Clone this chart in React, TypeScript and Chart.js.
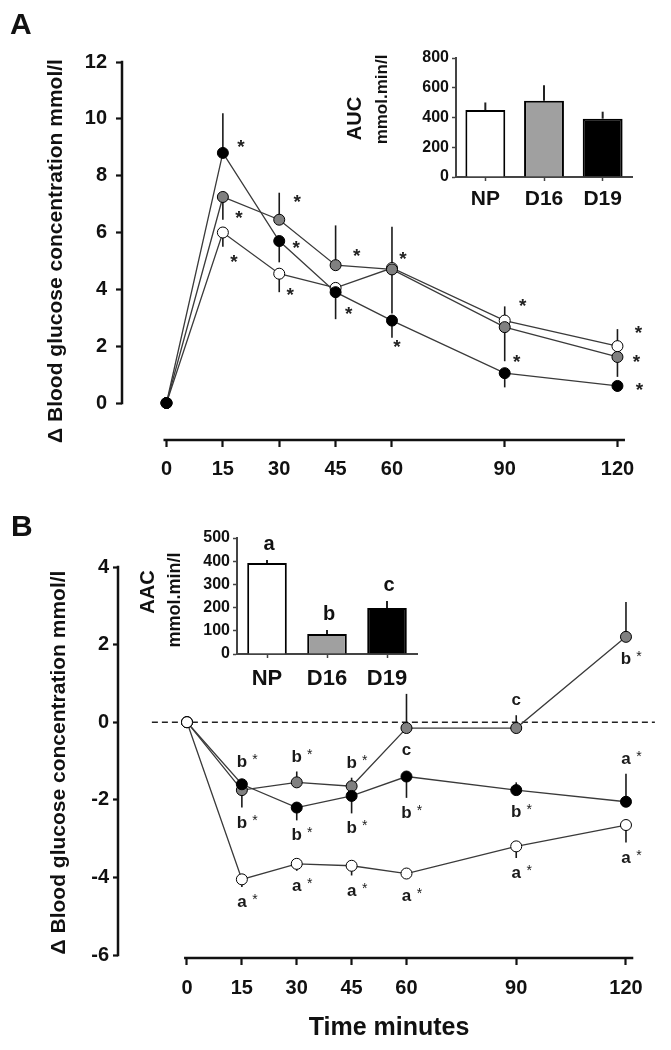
import React, { useEffect, useRef } from "react";
import { Chart, registerables } from "chart.js";

Chart.register(...registerables);

const FONT = "'Liberation Sans', Arial, Helvetica, sans-serif";
const INK = "#111111";
const LINE = "#3a3a3a";

// ---------- shared ----------
const timeMinutes = [0, 15, 30, 45, 60, 90, 120];
const timeTickValues = [0, 15, 30, 45, 60, 90, 120];
const groupLabels = ["NP", "D16", "D19"];

// ---------- Panel A (main) ----------
const yTicksA = [0, 2, 4, 6, 8, 10, 12];
const glucoseA_NP = [0, 6.0, 4.55, 4.05, 4.75, 2.9, 2.0];
const glucoseA_D16 = [0, 7.25, 6.45, 4.85, 4.7, 2.67, 1.62];
const glucoseA_D19 = [0, 8.8, 5.7, 3.9, 2.9, 1.05, 0.6];
// signed SEM (sign = side of the one-sided error bar)
const semA_NP = [0, -0.5, -0.65, 0, -1.6, 0.5, 0.6];
const semA_D16 = [0, -0.8, 0.95, 1.4, 1.5, -1.2, -0.7];
const semA_D19 = [0, 1.4, -0.75, -0.95, -0.6, -0.5, -0.2];
const starsA_NP = ["", "*", "*", "", "", "", "*"];
const starsA_D16 = ["", "*", "*", "*", "*", "*", "*"];
const starsA_D19 = ["", "*", "*", "*", "*", "*", "*"];

// ---------- Panel A (inset) ----------
const aucTicks = [0, 200, 400, 600, 800];
const aucValues = [450, 513, 392];
const aucSem = [51, 103, 47];

// ---------- Panel B (main) ----------
const yTicksB = [-6, -4, -2, 0, 2, 4];
const glucoseB_NP = [0, -4.05, -3.65, -3.7, -3.9, -3.2, -2.65];
const glucoseB_D16 = [0, -1.75, -1.55, -1.65, -0.15, -0.15, 2.2];
const glucoseB_D19 = [0, -1.6, -2.2, -1.9, -1.4, -1.75, -2.05];
const semB_NP = [0, -0.2, -0.18, -0.25, -0.12, -0.3, -0.45];
const semB_D16 = [0, -0.45, 0.28, 0.22, 0.88, 0.33, 0.9];
const semB_D19 = [0, -0.3, -0.33, -0.45, -0.55, 0.2, 0.72];
const lettersB_NP = ["", "a", "a", "a", "a", "a", "a"];
const lettersB_D16 = ["", "b", "b", "b", "c", "c", "b"];
const lettersB_D19 = ["", "b", "b", "b", "b", "b", "a"];
const starsB_NP = ["", "*", "*", "*", "*", "*", "*"];
const starsB_D16 = ["", "*", "*", "*", "", "", "*"];
const starsB_D19 = ["", "*", "*", "*", "*", "*", "*"];

// ---------- Panel B (inset) ----------
const aacTicks = [0, 100, 200, 300, 400, 500];
const aacValues = [392, 86, 198];
const aacSem = [13, 17, 30];
const aacLetters = ["a", "b", "c"];

// ---------- style / placement (not data) ----------
const starOffsetA_NP: (number[] | null)[] = [null, [11, 25], [11, 16], null, null, null, [21, -18]];
const starOffsetA_D16: (number[] | null)[] = [null, [16, 16], [18, -23], [21, -14], [11, -15], [18, -26], [19, 0]];
const starOffsetA_D19: (number[] | null)[] = [null, [18, -11], [17, 2], [13, 17], [5, 21], [12, -16], [22, -1]];
// +1 label below the point, -1 above
const labelSideB_NP = [0, 1, 1, 1, 1, 1, 1];
const labelSideB_D16 = [0, 1, -1, -1, 1, -1, 1];
const labelSideB_D19 = [0, -1, 1, 1, 1, 1, -1];

const pts = (vals: number[]) => timeMinutes.map((t, i) => ({ x: t, y: vals[i] }));

function fixTicks(values: number[]) {
  return (s: any) => {
    s.ticks = values.map((v) => ({ value: v }));
  };
}

function axisLinesPlugin(xFrom: number, xTo: number, yFrom: number, yTo: number) {
  return {
    id: "axisLines",
    afterDraw(chart: any) {
      const { ctx, chartArea, scales } = chart;
      const xs = scales.x;
      const ys = scales.y;
      ctx.save();
      ctx.strokeStyle = INK;
      ctx.lineWidth = 2.5;
      ctx.beginPath();
      ctx.moveTo(chartArea.left, ys.getPixelForValue(yFrom) + 1.2);
      ctx.lineTo(chartArea.left, ys.getPixelForValue(yTo) - 1.2);
      ctx.moveTo(xs.getPixelForValue(xFrom), chartArea.bottom);
      ctx.lineTo(xs.getPixelForValue(xTo), chartArea.bottom);
      ctx.stroke();
      ctx.restore();
    },
  };
}

function errorBarsPlugin(values: number[][], sems: number[][]) {
  return {
    id: "errorBars",
    beforeDatasetsDraw(chart: any) {
      const { ctx, scales } = chart;
      ctx.save();
      ctx.strokeStyle = "#1a1a1a";
      ctx.lineWidth = 1.6;
      values.forEach((vals, i) => {
        vals.forEach((v, j) => {
          const e = sems[i][j];
          if (!e) return;
          const x = scales.x.getPixelForValue(timeMinutes[j]);
          ctx.beginPath();
          ctx.moveTo(x, scales.y.getPixelForValue(v));
          ctx.lineTo(x, scales.y.getPixelForValue(v + e));
          ctx.stroke();
        });
      });
      ctx.restore();
    },
  };
}

const starsPluginA = {
  id: "starsA",
  afterDatasetsDraw(chart: any) {
    const { ctx, scales } = chart;
    const groups = [
      { v: glucoseA_NP, s: starsA_NP, o: starOffsetA_NP },
      { v: glucoseA_D16, s: starsA_D16, o: starOffsetA_D16 },
      { v: glucoseA_D19, s: starsA_D19, o: starOffsetA_D19 },
    ];
    const size = 19;
    ctx.save();
    ctx.fillStyle = "#222";
    ctx.font = `bold ${size}px ${FONT}`;
    ctx.textAlign = "center";
    ctx.textBaseline = "alphabetic";
    groups.forEach((g) => {
      g.s.forEach((mark, j) => {
        const off = g.o[j];
        if (!mark || !off) return;
        const px = scales.x.getPixelForValue(timeMinutes[j]) + off[0];
        const py = scales.y.getPixelForValue(g.v[j]) + off[1];
        ctx.fillText(mark, px, py + 0.575 * size);
      });
    });
    ctx.restore();
  },
};

const lettersPluginB = {
  id: "lettersB",
  afterDatasetsDraw(chart: any) {
    const { ctx, scales } = chart;
    const groups = [
      { v: glucoseB_NP, e: semB_NP, l: lettersB_NP, s: starsB_NP, side: labelSideB_NP },
      { v: glucoseB_D16, e: semB_D16, l: lettersB_D16, s: starsB_D16, side: labelSideB_D16 },
      { v: glucoseB_D19, e: semB_D19, l: lettersB_D19, s: starsB_D19, side: labelSideB_D19 },
    ];
    const size = 17;
    ctx.save();
    ctx.fillStyle = "#1a1a1a";
    ctx.textAlign = "center";
    ctx.textBaseline = "alphabetic";
    groups.forEach((g) => {
      g.l.forEach((letter, j) => {
        if (!letter) return;
        const side = g.side[j];
        const x = scales.x.getPixelForValue(timeMinutes[j]);
        const y = scales.y.getPixelForValue(g.v[j]);
        const errPx = Math.abs(scales.y.getPixelForValue(g.v[j] + g.e[j]) - y);
        const errSide = g.e[j] < 0 ? 1 : -1; // pixel direction of error bar
        const dist = errSide === side ? Math.max(errPx + 15, 22) : 22;
        const cy = y + side * dist;
        const base = cy + 0.3 * size;
        ctx.font = `bold ${size}px ${FONT}`;
        ctx.fillText(letter, x, base);
        if (g.s[j]) {
          ctx.font = `14px ${FONT}`;
          ctx.fillText(g.s[j], x + 13, base - 3);
        }
      });
    });
    ctx.restore();
  },
};

const zeroLinePlugin = {
  id: "zeroLine",
  beforeDatasetsDraw(chart: any) {
    const { ctx, scales } = chart;
    const y = scales.y.getPixelForValue(0);
    ctx.save();
    ctx.strokeStyle = "#222";
    ctx.lineWidth = 1.5;
    ctx.setLineDash([6, 4]);
    ctx.beginPath();
    ctx.moveTo(scales.x.getPixelForValue(-9.6), y);
    ctx.lineTo(scales.x.getPixelForValue(127.9), y);
    ctx.stroke();
    ctx.restore();
  },
};

function barErrorPlugin(values: number[], sems: number[], letters: string[] | null) {
  return {
    id: "barErrors",
    afterDatasetsDraw(chart: any) {
      const { ctx, scales } = chart;
      const meta = chart.getDatasetMeta(0);
      ctx.save();
      ctx.strokeStyle = "#222";
      ctx.lineWidth = 2;
      meta.data.forEach((bar: any, j: number) => {
        const top = scales.y.getPixelForValue(values[j]);
        const end = scales.y.getPixelForValue(values[j] + sems[j]);
        ctx.beginPath();
        ctx.moveTo(bar.x, top);
        ctx.lineTo(bar.x, end);
        ctx.stroke();
        if (letters && letters[j]) {
          ctx.fillStyle = INK;
          ctx.font = `bold 20px ${FONT}`;
          ctx.textAlign = "center";
          ctx.textBaseline = "alphabetic";
          ctx.fillText(letters[j], bar.x + 2, end - 10);
        }
      });
      ctx.restore();
    },
  };
}

function insetTitlePlugin(
  big: string,
  bigSize: number,
  bigDx: number,
  bigDy: number,
  small: string,
  smallSize: number,
  smallDx: number,
  smallDy: number
) {
  return {
    id: "insetTitle",
    afterDraw(chart: any) {
      const { ctx, chartArea } = chart;
      const midY = (chartArea.top + chartArea.bottom) / 2;
      ctx.save();
      ctx.fillStyle = INK;
      ctx.textAlign = "center";
      ctx.textBaseline = "middle";
      const draw = (t: string, size: number, dx: number, dy: number) => {
        ctx.save();
        ctx.translate(chartArea.left + dx, midY + dy);
        ctx.rotate(-Math.PI / 2);
        ctx.font = `bold ${size}px ${FONT}`;
        ctx.fillText(t, 0, 0);
        ctx.restore();
      };
      draw(big, bigSize, bigDx, bigDy);
      draw(small, smallSize, smallDx, smallDy);
      ctx.restore();
    },
  };
}

const tickFont = (size: number) => ({ family: FONT, size, weight: "bold" as const });

function lineDataset(label: string, vals: number[], fill: string, order: number) {
  return {
    label,
    data: pts(vals),
    borderColor: LINE,
    borderWidth: 1.3,
    pointBackgroundColor: fill,
    pointBorderColor: "#000",
    pointBorderWidth: 1,
    pointRadius: 5.5,
    pointHoverRadius: 5.5,
    tension: 0,
    order,
    clip: false as any,
  };
}

function mainConfig(opts: {
  datasets: any[];
  yTicks: number[];
  yMin: number;
  yMax: number;
  xMin: number;
  xMax: number;
  padTop: number;
  padRight: number;
  yWidth: number;
  xHeight: number;
  yTitlePad: number;
  yTickLen: number;
  yTickPad: number;
  xTickPad: number;
  xTitle: string | null;
  plugins: any[];
}) {
  return {
    type: "line" as const,
    data: { datasets: opts.datasets },
    options: {
      responsive: false,
      animation: false as const,
      devicePixelRatio: 1,
      events: [],
      layout: { padding: { top: opts.padTop, right: opts.padRight, left: 0, bottom: 0 } },
      plugins: { legend: { display: false }, tooltip: { enabled: false } },
      scales: {
        x: {
          type: "linear" as const,
          min: opts.xMin,
          max: opts.xMax,
          afterBuildTicks: fixTicks(timeTickValues),
          afterFit: (s: any) => {
            s.height = opts.xHeight;
          },
          border: { display: false },
          grid: { drawOnChartArea: false, drawTicks: true, tickLength: 7, tickWidth: 2.2, color: INK },
          ticks: {
            font: tickFont(20),
            color: INK,
            padding: opts.xTickPad,
            autoSkip: false,
            maxRotation: 0,
            callback: (v: any) => String(v),
          },
          title: opts.xTitle
            ? {
                display: true,
                text: opts.xTitle,
                font: { family: FONT, size: 25, weight: "bold" as const },
                color: INK,
                padding: { top: 0, bottom: 7 },
              }
            : { display: false },
        },
        y: {
          min: opts.yMin,
          max: opts.yMax,
          afterBuildTicks: fixTicks(opts.yTicks),
          afterFit: (s: any) => {
            s.width = opts.yWidth;
          },
          border: { display: false },
          grid: { drawOnChartArea: false, drawTicks: true, tickLength: opts.yTickLen, tickWidth: 2.2, color: INK },
          ticks: {
            font: tickFont(20),
            color: INK,
            padding: opts.yTickPad,
            autoSkip: false,
            callback: (v: any) => String(v),
          },
          title: {
            display: true,
            text: "\u0394 Blood glucose concentration mmol/l",
            font: { family: FONT, size: 21, weight: "bold" as const },
            color: INK,
            padding: { top: opts.yTitlePad, bottom: 0 },
          },
        },
      },
    },
    plugins: opts.plugins,
  };
}

function insetConfig(opts: {
  values: number[];
  ticks: number[];
  max: number;
  padTop: number;
  padRight: number;
  yWidth: number;
  xHeight: number;
  tickSize: number;
  labelSize: number;
  labelPad: number;
  barPct: number;
  plugins: any[];
}) {
  return {
    type: "bar" as const,
    data: {
      labels: groupLabels,
      datasets: [
        {
          data: opts.values,
          backgroundColor: ["#ffffff", "#a0a0a0", "#000000"],
          borderColor: "#000",
          borderWidth: 2,
          barPercentage: opts.barPct,
          categoryPercentage: 1,
        },
      ],
    },
    options: {
      responsive: false,
      animation: false as const,
      devicePixelRatio: 1,
      events: [],
      layout: { padding: { top: opts.padTop, right: opts.padRight, left: 0, bottom: 0 } },
      plugins: { legend: { display: false }, tooltip: { enabled: false } },
      scales: {
        x: {
          afterFit: (s: any) => {
            s.height = opts.xHeight;
          },
          border: { display: true, color: "#444", width: 2 },
          grid: { offset: false, drawOnChartArea: false, drawTicks: true, tickLength: 4, tickWidth: 1.5, color: "#444" },
          ticks: { font: tickFont(opts.labelSize), color: INK, padding: opts.labelPad, maxRotation: 0 },
        },
        y: {
          min: 0,
          max: opts.max,
          afterBuildTicks: fixTicks(opts.ticks),
          afterFit: (s: any) => {
            s.width = opts.yWidth;
          },
          border: { display: true, color: "#444", width: 2 },
          grid: { drawOnChartArea: false, drawTicks: true, tickLength: 4, tickWidth: 1.5, color: "#444" },
          ticks: {
            font: tickFont(opts.tickSize),
            color: INK,
            padding: 3,
            autoSkip: false,
            callback: (v: any) => String(v),
          },
        },
      },
    },
    plugins: opts.plugins,
  };
}

export default function App() {
  const refA = useRef<HTMLCanvasElement>(null);
  const refAi = useRef<HTMLCanvasElement>(null);
  const refB = useRef<HTMLCanvasElement>(null);
  const refBi = useRef<HTMLCanvasElement>(null);

  useEffect(() => {
    const charts: Chart[] = [];

    charts.push(
      new Chart(
        refA.current as HTMLCanvasElement,
        mainConfig({
          datasets: [
            lineDataset("D19", glucoseA_D19, "#000000", 0),
            lineDataset("D16", glucoseA_D16, "#808080", 1),
            lineDataset("NP", glucoseA_NP, "#ffffff", 2),
          ],
          yTicks: yTicksA,
          yMin: -1.302,
          yMax: 12,
          xMin: -11.84,
          xMax: 126,
          padTop: 62,
          padRight: 31,
          yWidth: 122,
          xHeight: 60,
          yTitlePad: 44,
          yTickLen: 6,
          yTickPad: 9,
          xTickPad: 10,
          xTitle: null,
          plugins: [
            axisLinesPlugin(-0.8, 122, 0, 12),
            errorBarsPlugin([glucoseA_NP, glucoseA_D16, glucoseA_D19], [semA_NP, semA_D16, semA_D19]),
            starsPluginA,
          ],
        }) as any
      )
    );

    charts.push(
      new Chart(
        refAi.current as HTMLCanvasElement,
        insetConfig({
          values: aucValues,
          ticks: aucTicks,
          max: 800,
          padTop: 18,
          padRight: 39,
          yWidth: 126,
          xHeight: 53,
          tickSize: 16,
          labelSize: 21,
          labelPad: 6,
          barPct: 0.68,
          plugins: [
            barErrorPlugin(aucValues, aucSem, null),
            insetTitlePlugin("AUC", 20, -101, 1, "mmol.min/l", 17, -74, -18),
          ],
        }) as any
      )
    );

    charts.push(
      new Chart(
        refB.current as HTMLCanvasElement,
        mainConfig({
          datasets: [
            lineDataset("NP", glucoseB_NP, "#ffffff", 0),
            lineDataset("D19", glucoseB_D19, "#000000", 1),
            lineDataset("D16", glucoseB_D16, "#808080", 2),
          ],
          yTicks: yTicksB,
          yMin: -6.077,
          yMax: 4,
          xMin: -18.86,
          xMax: 129.3,
          padTop: 67,
          padRight: 11,
          yWidth: 118,
          xHeight: 92,
          yTitlePad: 47,
          yTickLen: 5,
          yTickPad: 4,
          xTickPad: 11,
          xTitle: "Time minutes",
          plugins: [
            zeroLinePlugin,
            axisLinesPlugin(-0.8, 122, -6, 4),
            errorBarsPlugin([glucoseB_NP, glucoseB_D16, glucoseB_D19], [semB_NP, semB_D16, semB_D19]),
            lettersPluginB,
          ],
        }) as any
      )
    );

    charts.push(
      new Chart(
        refBi.current as HTMLCanvasElement,
        insetConfig({
          values: aacValues,
          ticks: aacTicks,
          max: 500,
          padTop: 18,
          padRight: 33,
          yWidth: 107,
          xHeight: 46,
          tickSize: 16,
          labelSize: 22,
          labelPad: 8,
          barPct: 0.66,
          plugins: [
            barErrorPlugin(aacValues, aacSem, aacLetters),
            insetTitlePlugin("AAC", 20, -89, -4, "mmol.min/l", 18, -62, 4),
          ],
        }) as any
      )
    );

    return () => charts.forEach((c) => c.destroy());
  }, []);

  const panelLetter: React.CSSProperties = {
    position: "absolute",
    font: `bold 30px ${FONT}`,
    lineHeight: "30px",
    color: INK,
  };

  return (
    <div
      style={{
        position: "absolute",
        left: 0,
        top: 0,
        width: 671,
        height: 1050,
        background: "#ffffff",
        overflow: "hidden",
      }}
    >
      <canvas ref={refA} width={671} height={500} style={{ position: "absolute", left: 0, top: 0 }} />
      <canvas ref={refAi} width={341} height={190} style={{ position: "absolute", left: 330, top: 40 }} />
      <canvas ref={refB} width={671} height={550} style={{ position: "absolute", left: 0, top: 500 }} />
      <canvas ref={refBi} width={320} height={180} style={{ position: "absolute", left: 130, top: 520 }} />
      <div style={{ ...panelLetter, left: 10, top: 9 }}>A</div>
      <div style={{ ...panelLetter, left: 11, top: 511 }}>B</div>
    </div>
  );
}
